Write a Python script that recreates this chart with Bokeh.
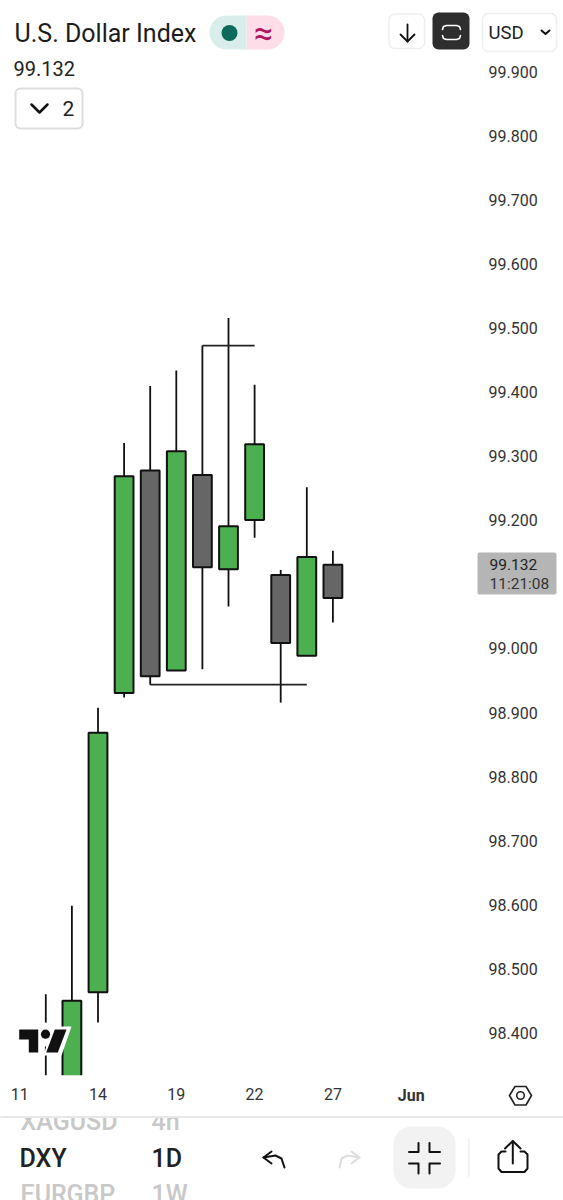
from bokeh.plotting import figure
from bokeh.embed import file_html
from bokeh.resources import INLINE
from bokeh.core.properties import value
from bokeh.models import Range1d, LinearAxis, FixedTicker

# ---- data ----
day_index = [1, 2, 3, 4, 5, 6, 7, 8, 9, 10, 11, 12]
open_vals = [98.30, 98.28, 98.465, 98.932, 99.279, 98.967, 99.272, 99.125, 99.202, 99.116, 98.990, 99.132]
close_vals = [98.26, 98.452, 98.870, 99.270, 98.958, 99.309, 99.128, 99.192, 99.320, 99.010, 99.144, 99.080]
high_vals = [98.462, 98.600, 98.909, 99.322, 99.411, 99.435, 99.474, 99.517, 99.413, 99.124, 99.253, 99.154]
low_vals = [98.20, 98.20, 98.418, 98.925, 98.945, 98.967, 98.969, 99.067, 99.174, 98.917, 98.990, 99.042]
candle_colors = ["#666666", "#4CAF50", "#4CAF50", "#4CAF50", "#666666", "#4CAF50",
                 "#666666", "#4CAF50", "#4CAF50", "#666666", "#4CAF50", "#666666"]
price_ticks = [98.4, 98.5, 98.6, 98.7, 98.8, 98.9, 99.0, 99.1, 99.2, 99.3, 99.4, 99.5, 99.6, 99.7, 99.8, 99.9]
price_labels = ["98.400", "98.500", "98.600", "98.700", "98.800", "98.900", "99.000", "99.100",
                "99.200", "99.300", "99.400", "99.500", "99.600", "99.700", "99.800", "99.900"]
date_ticks = [0, 3, 6, 9, 12]
date_labels = ["11", "14", "19", "22", "27"]
month_tick = [15]
month_label = ["Jun"]
level_prices = [99.474, 98.945]
level_starts = [7, 5]
level_ends = [9, 11]
last_price = "99.132"
countdown = "11:21:08"

# ---- scale set-up (reference px -> data) ----
X0, DX = 19.2, 26.1
Y0, DY = 72.0, 641.0
def xd(px): return (px - X0) / DX
def yd(py): return 99.9 - (py - Y0) / DY

FONT = value("Roboto")
W, H = 563, 1200
p = figure(width=W, height=H, output_backend="svg", toolbar_location=None,
           x_range=Range1d(xd(0), xd(563)), y_range=Range1d(yd(1200), yd(0)),
           x_axis_location=None, y_axis_location=None, min_border=0)
p.grid.visible = False
p.outline_line_color = None
p.background_fill_color = "white"
p.border_fill_color = "white"
p.extra_x_ranges["px"] = Range1d(0, 563)
p.extra_y_ranges["px"] = Range1d(1200, 0)
p.extra_y_ranges["ticks"] = Range1d(yd(1201), yd(1))

# ---- axes ----
def style(ax):
    ax.axis_line_color = None
    ax.major_tick_line_color = None
    ax.minor_tick_line_color = None
    ax.major_tick_out = 0
    ax.major_tick_in = 0
    ax.minor_tick_out = 0
    ax.minor_tick_in = 0
    ax.major_label_text_font = "Roboto"
    ax.major_label_text_font_size = "16px"
    ax.major_label_text_color = "#333333"

ya = LinearAxis(ticker=FixedTicker(ticks=price_ticks), fixed_location=xd(486), y_range_name="ticks",
                major_label_overrides=dict(zip(price_ticks, price_labels)), major_label_standoff=2)
style(ya)
ya.level = "underlay"
p.add_layout(ya, "right")

xa = LinearAxis(ticker=FixedTicker(ticks=date_ticks), fixed_location=yd(1085),
                major_label_overrides=dict(zip(date_ticks, date_labels)), major_label_standoff=2)
style(xa)
p.add_layout(xa, "below")

xm = LinearAxis(ticker=FixedTicker(ticks=month_tick), fixed_location=yd(1083),
                major_label_overrides=dict(zip(month_tick, month_label)), major_label_standoff=2)
style(xm)
xm.major_label_text_font_style = "bold"
p.add_layout(xm, "below")

# ---- candles ----
p.segment(day_index, high_vals, day_index, low_vals, line_color="#111111", line_width=1.8)
p.vbar(x=day_index, top=open_vals, bottom=close_vals, width=0.72, fill_color=candle_colors,
       line_color="#111111", line_width=2)
p.segment(level_starts, level_prices, level_ends, level_prices, line_color="#222222", line_width=1.8)

# ---- chrome in reference pixels ----
PX = dict(x_range_name="px", y_range_name="px")
def box(l, r, t, b, fill="white", line=None, lw=1.5, rad=0):
    p.quad(left=[l], right=[r], top=[t], bottom=[b], fill_color=fill, line_color=line,
           line_width=lw, border_radius=rad, **PX)
def path(xs, ys, color="#111111", lw=2.0):
    p.line(xs, ys, line_color=color, line_width=lw, line_cap="round", line_join="round", **PX)
def txt(x, y, s, size, color="#111111", align="left", bold=False, font=FONT):
    p.text([x], [y], text=[s], text_font=font, text_font_size=f"{size}px", text_color=color,
           text_align=align, text_baseline="middle", text_font_style="bold" if bold else "normal", **PX)

MED = value("Roboto Medium")
# footer background, faded scrolling wheel rows (top one gets cut by the footer rule)
box(0, 563, 1075, 1200)
txt(20, 1121, "XAGUSD", 25, "#c8c8c8", font=MED)
txt(151, 1121, "4h", 25, "#c8c8c8", font=MED)
box(0, 563, 1075, 1116.5)
txt(20, 1194, "EURGBP", 25, "#c8c8c8", font=MED)
txt(151, 1194, "1W", 25, "#c8c8c8", font=MED)
txt(19, 1158, "DXY", 25, "#222222", font=MED)
txt(151, 1158, "1D", 25, "#222222", font=MED)
path([0, 563], [1116.5, 1116.5], "#e8e8e8", 2)

# logo
p.patch([52, 71, 61, 43], [1026, 1026, 1055, 1055], fill_color="white", line_color=None, **PX)
p.circle([45], [1034], radius=12, fill_color="white", line_color=None, **PX)
p.patch([18.7, 37.7, 37.7, 28.3, 28.3, 18.7], [1029, 1029, 1052, 1052, 1039, 1039],
        fill_color="#111111", line_color=None, **PX)
p.circle([45], [1033.7], radius=4.6, fill_color="#111111", line_color=None, **PX)
p.patch([54.3, 66, 57.3, 45.7], [1029, 1029, 1052, 1052], fill_color="#111111", line_color=None, **PX)

# header
txt(14, 33, "U.S. Dollar Index", 25, "#1c1c1c")
txt(13, 68, last_price, 20, "#222222")
box(246, 284, 15, 49, fill="#FDDDE8", rad=(0, 17, 17, 0))
box(209, 246, 15, 49, fill="#D9EEEB", rad=(17, 0, 0, 17))
p.circle([229], [32.5], radius=8, fill_color="#0E6B5C", line_color=None, **PX)
txt(263, 32, "≈", 34, "#B0155F", "center", False)

box(15, 88.0 and 82, 88, 128, line="#dddddd", lw=2, rad=5)
path([31, 39, 47], [104, 112, 104], "#111111", 2.5)
txt(68, 108, "2", 21, "#222222", "center")

box(388.5, 424, 13.5, 48, line="#eeeeee", rad=6)
path([407, 407], [24, 41], "#111111", 1.8)
path([400, 407, 414], [34, 41, 34], "#111111", 1.8)

box(432, 469, 12, 49, fill="#2E2E2E", rad=6)
path([442, 443, 446, 456, 459, 460], [29, 26, 25, 25, 26, 29], "white", 1.6)
path([442, 443, 446, 456, 459, 460], [35, 38, 39, 39, 38, 35], "white", 1.6)

box(482, 556, 13, 51, line="#eeeeee", rad=6)
txt(488, 32, "USD", 18.5, "#222222")
path([541, 545, 549], [30, 33.5, 30], "#111111", 2)

# last price label
box(477, 556, 552, 594, fill="#B5B5B5", rad=2)
txt(489, 564, last_price, 15.5, "#222222")
txt(489, 583, countdown, 15.5, "#333333")

# settings hexagon
path([509, 514.5, 525.5, 531, 525.5, 514.5, 509], [1095, 1086, 1086, 1095, 1104.5, 1104.5, 1095], "#222222", 1.6)
p.circle([520], [1095], radius=3.8, fill_color="white", line_color="#222222", line_width=1.6, **PX)

# undo / redo
path([271, 263, 271], [1151, 1157, 1163], "#111111", 2)
path([263, 275, 281, 284], [1157, 1155, 1158, 1167], "#111111", 2)
path([351, 359, 351], [1151, 1157, 1163], "#dddddd", 2)
path([359, 347, 341, 339], [1157, 1155, 1158, 1167], "#dddddd", 2)

# collapse button
box(393, 455, 1126, 1188, fill="#F2F2F2", rad=18)
for xs, ys in [([408.5, 418, 418], [1151.5, 1151.5, 1142.5]),
               ([439.5, 429, 429], [1151.5, 1151.5, 1142.5]),
               ([408.5, 418, 418], [1163, 1163, 1173]),
               ([439.5, 429, 429], [1163, 1163, 1173])]:
    path(xs, ys, "#111111", 2)
path([468.5, 468.5], [1139, 1176], "#eeeeee", 1.5)

# share
path([505, 501, 498, 498, 501, 524, 527, 527, 524, 520],
     [1151, 1151, 1154, 1168, 1171.5, 1171.5, 1168, 1154, 1151, 1151], "#111111", 2)
path([512.3, 512.3], [1141, 1163], "#111111", 2)
path([504.5, 512.3, 520], [1148, 1140.5, 1148], "#111111", 2)

open("out.html", "w").write(file_html(p, INLINE))
